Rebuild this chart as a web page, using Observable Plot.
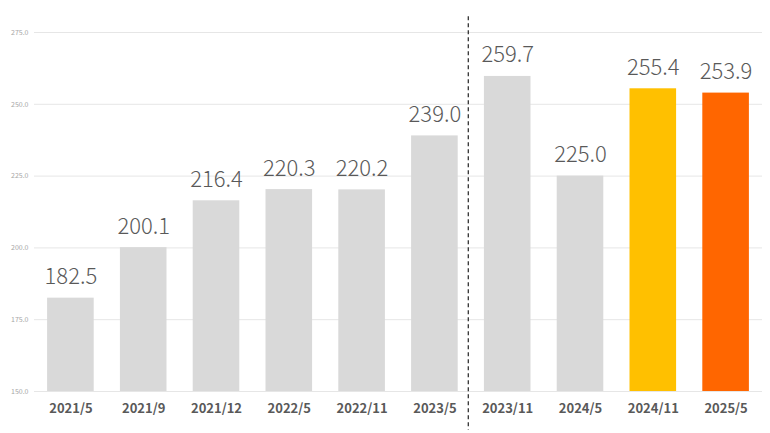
<!DOCTYPE html>
<html>
<head>
<meta charset="utf-8">
<script src="https://cdn.jsdelivr.net/npm/d3@7"></script>
<script src="https://cdn.jsdelivr.net/npm/@observablehq/plot@0.6"></script>
<style>
  html, body { margin: 0; padding: 0; background: #fff; }
  #chart svg { display: block; }
</style>
</head>
<body>
<div id="chart"></div>
<script>
const categories = ["2021/5","2021/9","2021/12","2022/5","2022/11","2023/5","2023/11","2024/5","2024/11","2025/5"];
const values = [182.5, 200.1, 216.4, 220.3, 220.2, 239.0, 259.7, 225.0, 255.4, 253.9];
const colors = ["#d9d9d9","#d9d9d9","#d9d9d9","#d9d9d9","#d9d9d9","#d9d9d9","#d9d9d9","#d9d9d9","#ffc000","#ff6600"];
const yTicks = [150, 175, 200, 225, 250, 275];
const dividerBefore = ["2023/11"];

const data = categories.map((c, i) => ({cat: c, value: values[i], color: colors[i]}));
const font = "'Noto Sans CJK JP', 'Noto Sans', sans-serif";

const W = 770, ML = 34, MR = 8;
const step = (W - ML - MR) / categories.length;

const chart = Plot.plot({
  width: W,
  height: 433,
  marginLeft: ML,
  marginRight: MR,
  marginTop: 32,
  marginBottom: 42,
  style: {fontFamily: font, background: "#fff"},
  x: {domain: categories, paddingInner: 0.36, paddingOuter: 0.18, round: false, label: null},
  y: {domain: [150, 275], label: null},
  marks: [
    Plot.ruleY(yTicks, {stroke: "#e6e6e6", strokeWidth: 1}),
    Plot.axisY({ticks: yTicks, tickFormat: d => d.toFixed(1), tickSize: 0, tickPadding: 6, fontSize: 7, fill: "#a6a6a6", label: null}),
    Plot.axisX({tickSize: 0, tickPadding: 12, fontSize: 13, fontWeight: "bold", fill: "#595959", label: null}),
    Plot.barY(data, {x: "cat", y1: 150, y2: "value", fill: "color"}),
    Plot.text(data, {x: "cat", y: "value", text: d => d.value.toFixed(1), lineAnchor: "bottom", dy: -14, fontSize: 22, fontWeight: 300, fill: "#595959"}),
    Plot.ruleX(dividerBefore, {x: d => d, y1: 280.5, y2: 136.5, dx: -step / 2 - 3, stroke: "#333333", strokeWidth: 1.3, strokeDasharray: "4,3"})
  ]
});
document.getElementById("chart").append(chart);
</script>
</body>
</html>
